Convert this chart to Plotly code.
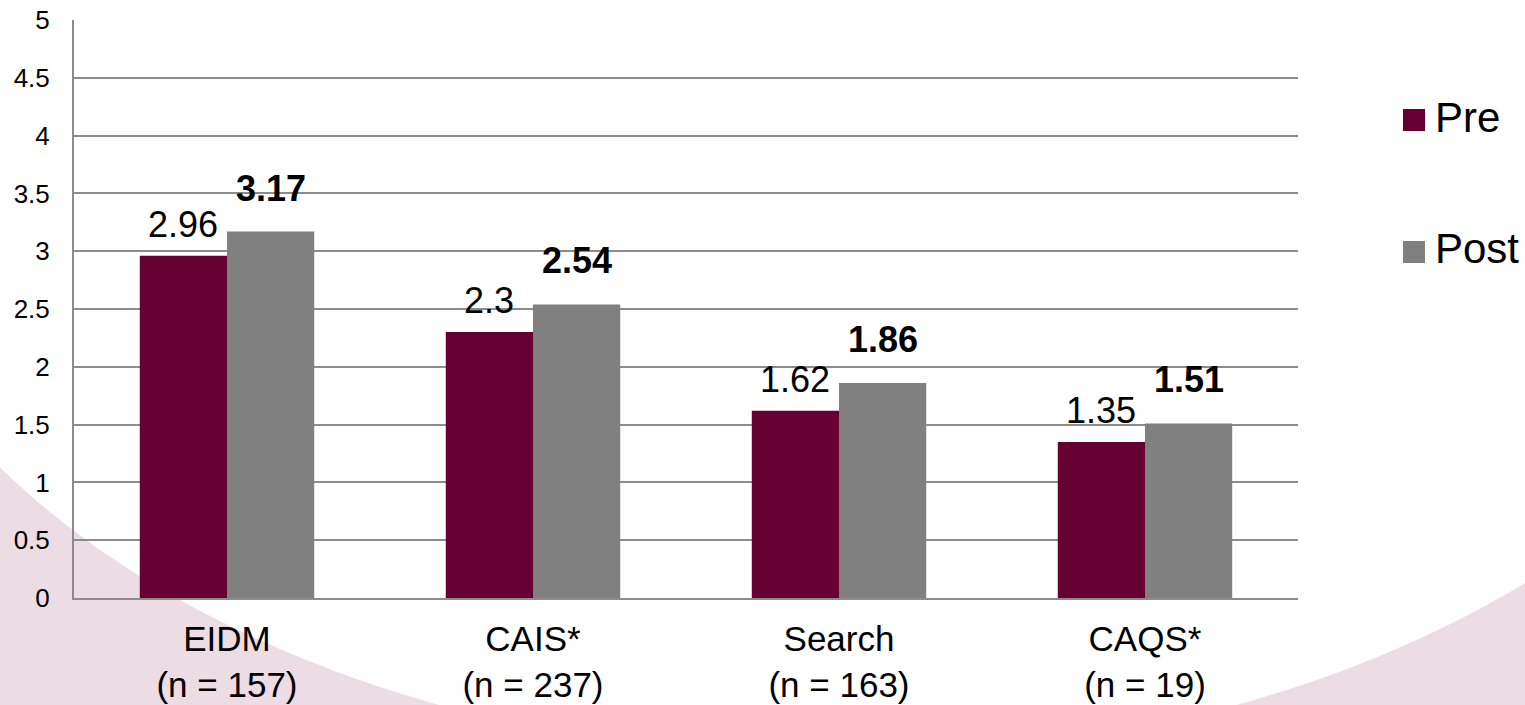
import numpy as np
import plotly.graph_objects as go

categories = ["EIDM<br>(n = 157)", "CAIS*<br>(n = 237)", "Search<br>(n = 163)", "CAQS*<br>(n = 19)"]
pre_values = [2.96, 2.30, 1.62, 1.35]
post_values = [3.17, 2.54, 1.86, 1.51]
series_names = ["Pre", "Post"]
y_ticks = [0, 0.5, 1, 1.5, 2, 2.5, 3, 3.5, 4, 4.5, 5]

PRE_COLOR = "#660033"
POST_COLOR = "#808080"
PINK = "#EBDDE3"
FONT = "Liberation Sans, Arial, sans-serif"

W, H = 1525, 705
ML, MR, MT, MB = 74, 227, 20, 107
PW, PH = W - ML - MR, H - MT - MB
BARGAP = 0.43


def px_to_paper(px, py):
    return (px - ML) / PW, (H - MB - py) / PH


fig = go.Figure()
fig.add_trace(go.Bar(x=categories, y=pre_values, name=series_names[0],
                     marker=dict(color=PRE_COLOR, line=dict(width=0)), showlegend=False))
fig.add_trace(go.Bar(x=categories, y=post_values, name=series_names[1],
                     marker=dict(color=POST_COLOR, line=dict(width=0)), showlegend=False))

annotations = []
off = (1 - BARGAP) / 4
for i, (a, b) in enumerate(zip(pre_values, post_values)):
    annotations.append(dict(x=i - off, y=a, xref="x", yref="y", text=f"{a:g}", showarrow=False,
                            yanchor="bottom", xanchor="center", yshift=9,
                            font=dict(family=FONT, size=36, color="#000000")))
    annotations.append(dict(x=i + off, y=b, xref="x", yref="y", text=f"<b>{b:g}</b>", showarrow=False,
                            yanchor="bottom", xanchor="center", yshift=21,
                            font=dict(family=FONT, size=36, color="#000000")))

# background decorative curve (pink region outside a large ellipse)
cx, cy, ea, eb = 838, 118, 1000, 640
xs = np.linspace(0, W, 120)
pts = []
for xx in xs:
    d = min(abs(xx - cx) / ea, 1.0)
    yy = min(cy + eb * np.sqrt(1 - d * d), H + 5)
    pts.append(px_to_paper(xx, yy))
p0 = px_to_paper(0, H + 5)
p1 = px_to_paper(W, H + 5)
path = f"M{p0[0]},{p0[1]} " + " ".join(f"L{x:.5f},{y:.5f}" for x, y in pts) + f" L{p1[0]},{p1[1]} Z"
shapes = [dict(type="path", path=path, xref="paper", yref="paper", fillcolor=PINK,
               line=dict(width=0), layer="below")]

# manual legend
legend_items = [(series_names[0], PRE_COLOR, 120), (series_names[1], POST_COLOR, 252)]
for name, col, yc in legend_items:
    x0, y0 = px_to_paper(1403, yc - 11)
    x1, y1 = px_to_paper(1425, yc + 11)
    shapes.append(dict(type="rect", xref="paper", yref="paper", x0=x0, x1=x1, y0=y1, y1=y0,
                       fillcolor=col, line=dict(width=0)))
    tx, ty = px_to_paper(1433, yc - 3)
    annotations.append(dict(x=tx, y=ty, xref="paper", yref="paper", text=name, showarrow=False,
                            xanchor="left", yanchor="middle",
                            font=dict(family=FONT, size=42, color="#000000")))

fig.update_layout(
    width=W, height=H,
    margin=dict(l=ML, r=MR, t=MT, b=MB, pad=0, autoexpand=False),
    paper_bgcolor="white", plot_bgcolor="rgba(0,0,0,0)",
    barmode="group", bargap=BARGAP, bargroupgap=0,
    showlegend=False,
    font=dict(family=FONT, color="#000000"),
    shapes=shapes, annotations=annotations,
)
fig.update_xaxes(type="category", showgrid=False, showline=True, linecolor="#8C8C8C", linewidth=2,
                 ticks="", tickfont=dict(family=FONT, size=35, color="#000000"),
                 ticklabelstandoff=9, zeroline=False, automargin=False)
fig.update_yaxes(range=[0, 5], tickvals=y_ticks, ticktext=[f"{v:g}" for v in y_ticks],
                 showgrid=True, gridcolor="#8C8C8C", gridwidth=2,
                 showline=True, linecolor="#8C8C8C", linewidth=2, zeroline=False,
                 ticks="", tickfont=dict(family=FONT, size=26, color="#000000"),
                 ticklabelstandoff=17, automargin=False)

fig.write_html("out.html", config={"displayModeBar": False},
               post_script="document.body.style.margin='0';document.body.style.overflow='hidden';")
